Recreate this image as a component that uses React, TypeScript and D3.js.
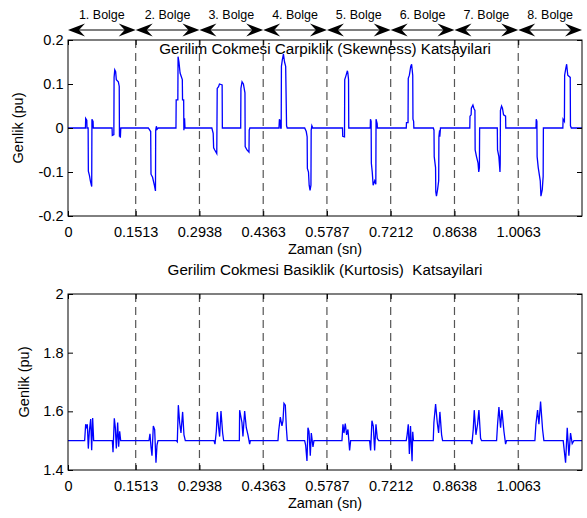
import React, { useRef, useEffect } from 'react';
import * as d3 from 'd3';

const regionLabels = ['1. Bolge', '2. Bolge', '3. Bolge', '4. Bolge', '5. Bolge', '6. Bolge', '7. Bolge', '8. Bolge'];
const regionBounds = [0, 0.1513, 0.2938, 0.4363, 0.5787, 0.7212, 0.8638, 1.0063, 1.1488];
const xTickValues = [0, 0.1513, 0.2938, 0.4363, 0.5787, 0.7212, 0.8638, 1.0063];
const skewTicks = [-0.2, -0.1, 0, 0.1, 0.2];
const kurtTicks = [1.4, 1.6, 1.8, 2];

// skewness trace, [time (sn), value]
const skewTrace: [number, number][] = [
  [0, 0],
  [0.039, 0], [0.0395, 0.022], [0.042, 0.018], [0.0425, 0], [0.045, 0], [0.0455, -0.098], [0.048, -0.108], [0.05, -0.12], [0.053, -0.133], [0.0535, 0.02], [0.056, 0.015], [0.0565, 0],
  [0.0985, 0], [0.099, -0.017], [0.1025, -0.015], [0.103, 0.115], [0.1045, 0.132], [0.1065, 0.128], [0.108, 0.11], [0.1125, 0.105], [0.1145, 0.095], [0.115, -0.02], [0.1165, 0], [0.117, -0.022], [0.118, 0],
  [0.1795, 0], [0.1848, -0.008], [0.1855, -0.105], [0.189, -0.112], [0.193, -0.13], [0.1955, -0.143], [0.196, -0.005], [0.1975, 0.004], [0.199, -0.003], [0.2015, 0],
  [0.2413, 0], [0.2418, 0.064], [0.2455, 0.064], [0.246, 0.162], [0.248, 0.15], [0.2505, 0.125], [0.2555, 0.11], [0.256, 0.064], [0.2585, 0.064], [0.259, -0.005], [0.2605, 0.022], [0.2615, 0],
  [0.3215, 0], [0.3245, -0.012], [0.3255, -0.045], [0.328, -0.05], [0.3325, -0.058], [0.3335, 0.09], [0.3365, 0.094], [0.3385, 0.1], [0.3445, 0.098], [0.345, 0],
  [0.386, 0], [0.3865, 0.09], [0.389, 0.105], [0.392, 0.1], [0.3955, 0.08], [0.396, -0.042], [0.4, -0.05], [0.4045, -0.055], [0.405, -0.005], [0.4065, 0],
  [0.4715, 0], [0.4725, 0.02], [0.4745, 0.015], [0.475, 0], [0.4765, 0], [0.477, 0.14], [0.479, 0.155], [0.4815, 0.168], [0.484, 0.15], [0.4865, 0.14], [0.4885, 0.005], [0.49, 0],
  [0.529, 0], [0.5325, -0.008], [0.5345, -0.02], [0.535, -0.092], [0.5375, -0.1], [0.539, -0.13], [0.541, -0.142], [0.543, -0.13], [0.5435, -0.005], [0.545, 0.005], [0.547, 0],
  [0.6135, 0], [0.614, -0.019], [0.618, -0.02], [0.6185, 0.11], [0.621, 0.118], [0.6245, 0.13], [0.6255, 0.125], [0.627, 0.11], [0.6275, 0],
  [0.6755, 0], [0.676, 0.02], [0.6775, 0.015], [0.678, -0.08], [0.68, -0.1], [0.682, -0.13], [0.6855, -0.12], [0.688, -0.128], [0.6885, 0.02], [0.691, 0.01], [0.6915, 0],
  [0.756, 0], [0.7565, 0.012], [0.76, 0.012], [0.7605, 0.113], [0.763, 0.12], [0.766, 0.14], [0.768, 0.145], [0.7705, 0.12], [0.771, 0.02], [0.7725, 0.015], [0.773, 0],
  [0.8165, 0], [0.818, -0.005], [0.8185, -0.065], [0.8215, -0.09], [0.822, -0.145], [0.8235, -0.155], [0.826, -0.14], [0.8285, -0.12], [0.829, -0.02], [0.8305, -0.005], [0.831, -0.02], [0.8325, 0],
  [0.898, 0], [0.8985, 0.027], [0.901, 0.03], [0.9015, 0.045], [0.905, 0.052], [0.907, 0.045], [0.9095, 0.04], [0.91, -0.05], [0.913, -0.065], [0.9165, -0.08], [0.918, -0.1], [0.9195, -0.09], [0.92, 0],
  [0.9595, 0], [0.96, -0.05], [0.963, -0.065], [0.9655, -0.1], [0.966, -0.08], [0.9665, 0.04], [0.969, 0.05], [0.971, 0.045], [0.9735, 0.03], [0.978, 0.027], [0.9785, 0],
  [1.046, 0], [1.0465, 0.02], [1.048, 0.015], [1.0485, -0.065], [1.051, -0.09], [1.0555, -0.12], [1.057, -0.155], [1.06, -0.14], [1.062, -0.11], [1.0625, 0],
  [1.106, 0], [1.1065, 0.02], [1.1095, 0.015], [1.11, 0.12], [1.1125, 0.135], [1.1145, 0.145], [1.117, 0.12], [1.1225, 0.115], [1.123, 0.005], [1.125, 0],
  [1.1488, 0],
];

// kurtosis trace, [time (sn), value]
const kurtTrace: [number, number][] = [
  [0, 1.5],
  [0.0372, 1.5], [0.0395, 1.556], [0.0417, 1.542], [0.0432, 1.556], [0.0454, 1.473], [0.0477, 1.532], [0.0507, 1.574], [0.0529, 1.467], [0.0551, 1.577], [0.0574, 1.5],
  [0.0991, 1.5], [0.1006, 1.461], [0.1035, 1.576], [0.1058, 1.544], [0.108, 1.473], [0.111, 1.562], [0.1132, 1.479], [0.1155, 1.532], [0.1177, 1.5],
  [0.181, 1.5], [0.1832, 1.523], [0.1855, 1.479], [0.1877, 1.449], [0.1907, 1.55], [0.1937, 1.538], [0.1966, 1.425], [0.1989, 1.485], [0.2011, 1.5],
  [0.2421, 1.5], [0.2443, 1.496], [0.2466, 1.621], [0.2495, 1.562], [0.2525, 1.526], [0.2562, 1.598], [0.2592, 1.52], [0.2622, 1.5],
  [0.3263, 1.5], [0.3285, 1.488], [0.3315, 1.532], [0.3337, 1.598], [0.3367, 1.544], [0.3389, 1.514], [0.3419, 1.601], [0.3456, 1.526], [0.3479, 1.5],
  [0.383, 1.5], [0.3836, 1.604], [0.3888, 1.562], [0.391, 1.514], [0.3948, 1.601], [0.3985, 1.544], [0.4022, 1.52], [0.406, 1.488], [0.4075, 1.5],
  [0.4693, 1.5], [0.4708, 1.532], [0.4745, 1.58], [0.4782, 1.55], [0.4805, 1.568], [0.4827, 1.627], [0.4857, 1.621], [0.488, 1.544], [0.4901, 1.5],
  [0.5289, 1.5], [0.5311, 1.485], [0.5341, 1.431], [0.5363, 1.544], [0.5386, 1.532], [0.5415, 1.449], [0.5438, 1.526], [0.5475, 1.479], [0.5497, 1.5],
  [0.6123, 1.5], [0.6145, 1.556], [0.6168, 1.526], [0.6197, 1.558], [0.6227, 1.52], [0.6257, 1.538], [0.6294, 1.467], [0.6317, 1.5],
  [0.6741, 1.5], [0.6764, 1.467], [0.6793, 1.568], [0.6823, 1.55], [0.6853, 1.467], [0.6883, 1.556], [0.6913, 1.508], [0.6942, 1.5],
  [0.756, 1.5], [0.758, 1.52], [0.7605, 1.556], [0.763, 1.455], [0.7655, 1.55], [0.769, 1.43], [0.7705, 1.53], [0.772, 1.5],
  [0.8163, 1.5], [0.8178, 1.562], [0.8216, 1.625], [0.8253, 1.562], [0.8283, 1.526], [0.8312, 1.598], [0.835, 1.52], [0.8372, 1.5],
  [0.9005, 1.5], [0.9027, 1.488], [0.9057, 1.538], [0.908, 1.604], [0.9117, 1.52], [0.9154, 1.556], [0.9184, 1.604], [0.9221, 1.508], [0.9243, 1.5],
  [0.9579, 1.5], [0.9601, 1.556], [0.9631, 1.615], [0.9668, 1.544], [0.9698, 1.604], [0.9743, 1.532], [0.978, 1.488], [0.9802, 1.5],
  [1.0435, 1.5], [1.0458, 1.556], [1.0495, 1.604], [1.0525, 1.556], [1.0562, 1.633], [1.0607, 1.538], [1.0636, 1.5],
  [1.1068, 1.5], [1.1091, 1.467], [1.1121, 1.425], [1.1158, 1.544], [1.1195, 1.449], [1.1232, 1.526], [1.1269, 1.49], [1.1307, 1.5],
  [1.1488, 1.5],
];

const FONT = '"Liberation Sans", Arial, Helvetica, sans-serif';

const App = () => {
  const ref = useRef<SVGSVGElement>(null);

  useEffect(() => {
    const width = 587;
    const height = 518;
    const left = 68;
    const right = 582;

    const svg = d3.select(ref.current);
    svg.selectAll('*').remove();
    svg.attr('width', width).attr('height', height);

    const x = d3.scaleLinear().domain([0, 1.1488]).range([left, right]);

    function panel(top: number, bottom: number, domain: [number, number], ticks: number[],
      data: [number, number][], title: string, titleY: number, yLabelX: number) {
      const y = d3.scaleLinear().domain(domain).range([bottom, top]);
      const g = svg.append('g');

      // dashed region separators
      g.append('g')
        .selectAll('line')
        .data(regionBounds.slice(1, -1))
        .join('line')
        .attr('x1', d => x(d)).attr('x2', d => x(d))
        .attr('y1', top).attr('y2', bottom)
        .attr('stroke', '#555')
        .attr('stroke-width', 1.2)
        .attr('stroke-dasharray', '8,5');

      const line = d3.line<[number, number]>().x(d => x(d[0])).y(d => y(d[1]));
      g.append('path')
        .datum(data)
        .attr('fill', 'none')
        .attr('stroke', '#0000ff')
        .attr('stroke-width', 1.3)
        .attr('d', line);

      const styleAxis = (a: any) => {
        a.select('.domain').remove();
        a.selectAll('.tick line').attr('stroke', '#000');
        a.selectAll('text').attr('font-family', FONT).attr('font-size', 14.5).attr('fill', '#000');
      };

      g.append('g')
        .attr('transform', `translate(0,${bottom})`)
        .call(d3.axisBottom(x).tickValues(xTickValues).tickFormat(d => String(d)).tickSize(-5).tickPadding(10.5))
        .call(styleAxis);
      g.append('g')
        .attr('transform', `translate(0,${top})`)
        .call(d3.axisTop(x).tickValues(xTickValues).tickFormat(() => '').tickSize(-5))
        .call(styleAxis);
      g.append('g')
        .attr('transform', `translate(${left},0)`)
        .call(d3.axisLeft(y).tickValues(ticks).tickFormat(d => String(d)).tickSize(-5).tickPadding(4.5))
        .call(styleAxis);
      g.append('g')
        .attr('transform', `translate(${right},0)`)
        .call(d3.axisRight(y).tickValues(ticks).tickFormat(() => '').tickSize(-5))
        .call(styleAxis);

      g.append('rect')
        .attr('x', left).attr('y', top)
        .attr('width', right - left).attr('height', bottom - top)
        .attr('fill', 'none').attr('stroke', '#000');

      g.append('text')
        .attr('x', (left + right) / 2).attr('y', titleY)
        .attr('text-anchor', 'middle')
        .attr('font-family', FONT).attr('font-size', 15.2)
        .style('white-space', 'pre')
        .text(title);

      g.append('text')
        .attr('x', (left + right) / 2).attr('y', bottom + 38)
        .attr('text-anchor', 'middle')
        .attr('font-family', FONT).attr('font-size', 14.5)
        .text('Zaman (sn)');

      g.append('text')
        .attr('transform', `translate(${yLabelX},${(top + bottom) / 2}) rotate(-90)`)
        .attr('text-anchor', 'middle')
        .attr('font-family', FONT).attr('font-size', 14.5)
        .text('Genlik (pu)');
    }

    panel(40, 216, [-0.2, 0.2], skewTicks, skewTrace,
      'Gerilim Cokmesi Carpiklik (Skewness) Katsayilari', 54, 23);
    panel(294, 470, [1.4, 2], kurtTicks, kurtTrace,
      'Gerilim Cokmesi Basiklik (Kurtosis)  Katsayilari', 275, 29);

    // region arrows on top
    const arrowY = 30;
    const head = (tipX: number, dir: number) =>
      `M${tipX},${arrowY} L${tipX - dir * 17},${arrowY - 6.5} L${tipX - dir * 11},${arrowY} L${tipX - dir * 17},${arrowY + 6.5} Z`;

    const arrows = svg.append('g');
    regionLabels.forEach((label, i) => {
      const x0 = x(regionBounds[i]);
      const x1 = x(regionBounds[i + 1]);
      arrows.append('line')
        .attr('x1', x0 + 4).attr('x2', x1 - 4)
        .attr('y1', arrowY).attr('y2', arrowY)
        .attr('stroke', '#000');
      arrows.append('path').attr('d', head(x0, -1)).attr('fill', '#000');
      arrows.append('path').attr('d', head(x1, 1)).attr('fill', '#000');
      arrows.append('text')
        .attr('x', (x0 + x1) / 2).attr('y', 19)
        .attr('text-anchor', 'middle')
        .attr('font-family', FONT).attr('font-size', 12.5)
        .text(label);
    });
  }, []);

  return <svg ref={ref} style={{ position: 'absolute', left: 0, top: 0 }}></svg>;
};

export default App;
